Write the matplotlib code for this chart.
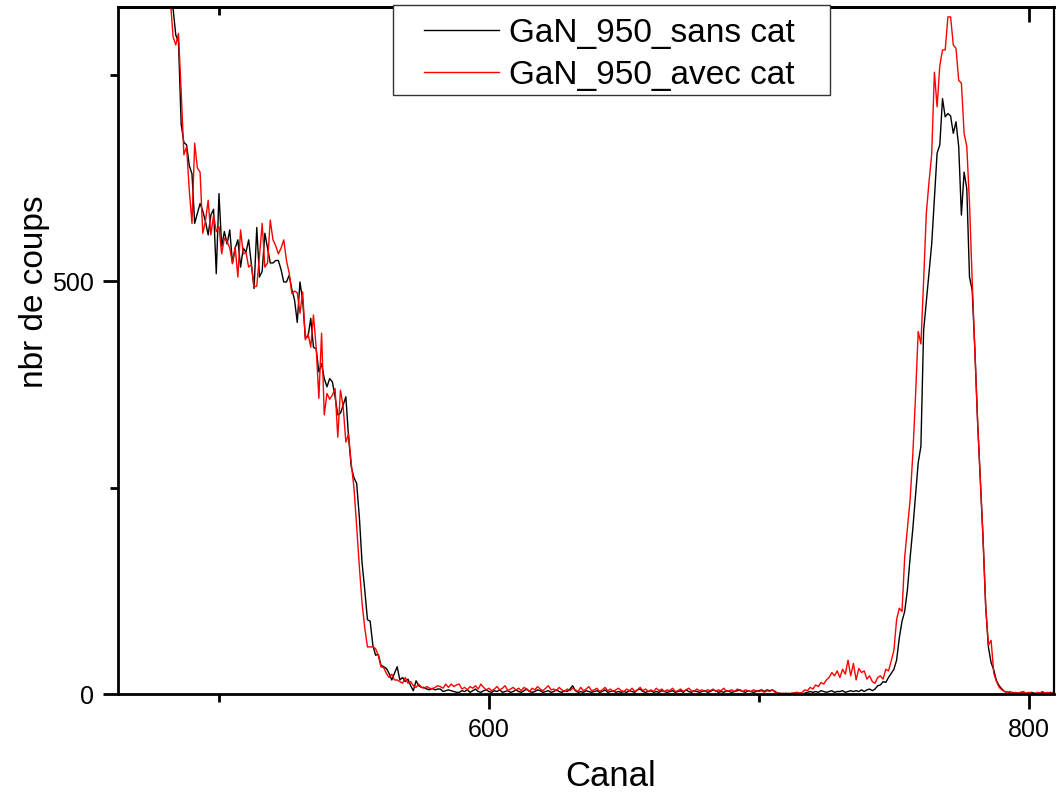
import numpy as np
import matplotlib
matplotlib.use('Agg')
import matplotlib.pyplot as plt
from matplotlib.patches import Rectangle
from matplotlib.ticker import MultipleLocator

plt.rcParams['font.family'] = ['Liberation Sans', 'DejaVu Sans']

# canaux 480..809
canal_debut = 480

# GaN_950_sans cat (noir)
sans_cat = [
    910, 880, 852, 830, 798, 790, 690, 668, 665, 640,
    630, 570, 582, 594, 585, 572, 556, 580, 587, 509,
    606, 542, 560, 545, 562, 522, 540, 550, 517, 540,
    535, 550, 520, 491, 565, 505, 512, 558, 540, 522,
    522, 525, 525, 514, 499, 499, 507, 490, 477, 450,
    499, 477, 431, 433, 455, 420, 418, 390, 400, 382,
    372, 382, 378, 360, 338, 340, 350, 360, 311, 275,
    262, 255, 214, 159, 126, 90, 88, 59, 47, 48,
    35, 33, 31, 25, 17, 25, 33, 17, 20, 15,
    18, 10, 4, 16, 10, 8, 8, 6, 5, 7,
    5, 6, 6, 3, 4, 5, 4, 3, 2, 2,
    4, 3, 5, 2, 4, 6, 3, 2, 4, 5,
    3, 2, 4, 3, 5, 2, 3, 4, 2, 3,
    5, 3, 2, 4, 6, 3, 2, 3, 5, 4,
    2, 3, 4, 2, 3, 5, 3, 2, 4, 3,
    6, 10, 4, 2, 3, 2, 4, 3, 2, 3,
    4, 2, 3, 5, 2, 3, 4, 2, 3, 2,
    3, 2, 4, 3, 2, 5, 6, 3, 2, 3,
    4, 2, 3, 2, 4, 3, 2, 3, 4, 2,
    3, 4, 2, 5, 3, 2, 4, 3, 2, 3,
    4, 2, 3, 5, 4, 2, 3, 2, 4, 3,
    2, 3, 4, 5, 3, 2, 4, 3, 2, 3,
    4, 5, 3, 5, 4, 5, 3, 1, 1, 0,
    1, 0, 1, 1, 2, 1, 0, 1, 2, 3,
    2, 3, 2, 4, 3, 2, 3, 4, 2, 3,
    3, 4, 2, 3, 4, 3, 4, 3, 5, 3,
    5, 6, 4, 6, 10, 11, 15, 14, 20, 25,
    30, 41, 68, 88, 100, 126, 165, 200, 240, 280,
    300, 440, 475, 510, 545, 600, 655, 665, 721, 699,
    703, 700, 679, 693, 663, 580, 632, 612, 505, 489,
    416, 330, 259, 190, 106, 57, 38, 29, 16, 10,
    6, 3, 2, 1, 2, 1, 1, 2, 1, 0,
    1, 2, 1, 0, 1, 2, 1, 1, 2, 1,
]

# GaN_950_avec cat (rouge)
avec_cat = [
    900, 870, 840, 796, 786, 800, 730, 653, 663, 610,
    570, 667, 637, 632, 558, 573, 598, 556, 580, 560,
    566, 533, 552, 548, 540, 521, 541, 505, 562, 533,
    535, 517, 520, 493, 494, 530, 570, 517, 522, 574,
    550, 543, 533, 540, 550, 525, 510, 485, 488, 486,
    461, 487, 429, 436, 420, 459, 420, 358, 437, 338,
    364, 357, 362, 370, 311, 368, 348, 305, 315, 279,
    250, 203, 154, 110, 80, 57, 57, 57, 55, 47,
    33, 32, 25, 20, 24, 17, 17, 15, 13, 20,
    13, 15, 10, 8, 12, 8, 7, 9, 7, 6,
    8, 10, 9, 7, 12, 8, 12, 9, 11, 12,
    6, 8, 5, 9, 7, 10, 6, 12, 8, 5,
    7, 4, 6, 9, 5, 7, 10, 4, 6, 8,
    5, 7, 4, 8, 6, 3, 7, 5, 9, 6,
    4, 7, 10, 5, 6, 4, 8, 5, 3, 6,
    4, 7, 5, 3, 8, 4, 6, 9, 4, 5,
    7, 3, 5, 8, 4, 6, 3, 5, 7, 4,
    3, 6, 4, 7, 3, 5, 8, 4, 6, 3,
    5, 3, 7, 4, 6, 3, 5, 4, 7, 3,
    4, 6, 3, 5, 7, 4, 3, 6, 4, 5,
    3, 5, 4, 6, 3, 5, 4, 7, 3, 4,
    5, 3, 6, 4, 3, 5, 4, 3, 5, 4,
    3, 4, 2, 4, 3, 5, 2, 1, 0, 1,
    0, 1, 0, 1, 2, 1, 2, 5, 4, 8,
    6, 11, 9, 14, 12, 17, 20, 26, 22, 28,
    20, 30, 24, 41, 22, 37, 17, 31, 26, 28,
    18, 22, 15, 13, 20, 22, 18, 30, 28, 40,
    53, 90, 104, 100, 166, 200, 235, 290, 360, 439,
    424, 500, 582, 620, 654, 753, 711, 761, 780, 780,
    820, 820, 786, 782, 743, 740, 679, 663, 594, 500,
    416, 330, 259, 190, 106, 59, 65, 25, 15, 8,
    5, 3, 2, 3, 1, 2, 1, 2, 3, 1,
    2, 1, 0, 2, 1, 3, 1, 2, 1, 2,
]

noms = ['GaN_950_sans cat', 'GaN_950_avec cat']
couleurs = ['black', 'red']

canal = np.arange(canal_debut, canal_debut + len(sans_cat))

fig = plt.figure(figsize=(10.59, 7.95), dpi=100)
ax = fig.add_axes([118/1059, 1-694/795, 936/1059, 687/795])

ax.plot(canal, sans_cat, color=couleurs[0], lw=1.0, label=noms[0])
ax.plot(canal, avec_cat, color=couleurs[1], lw=1.0, label=noms[1])

ax.set_xlim(462.6, 809.3)
ax.set_ylim(0, 832)

# axes style Origin
for s in ax.spines.values():
    s.set_linewidth(2.0)
ax.spines['right'].set_linewidth(1.6)

ax.xaxis.set_major_locator(MultipleLocator(200))
ax.xaxis.set_minor_locator(MultipleLocator(100))
ax.yaxis.set_major_locator(MultipleLocator(500))
ax.yaxis.set_minor_locator(MultipleLocator(250))
ax.tick_params(which='major', direction='out', length=11, width=2, labelsize=18, pad=6)
ax.tick_params(which='minor', direction='out', length=6, width=2)
ax.tick_params(axis='y', which='both', right=False)

# graduations en haut, vers l'interieur
top = ax.secondary_xaxis('top')
top.xaxis.set_major_locator(MultipleLocator(200))
top.xaxis.set_minor_locator(MultipleLocator(100))
top.tick_params(which='major', direction='in', length=11, width=2, labeltop=False)
top.tick_params(which='minor', direction='in', length=6, width=2)
top.spines['top'].set_linewidth(2.0)

ax.set_xlabel('Canal', fontsize=25)
ax.set_ylabel('nbr de coups', fontsize=24)
ax.xaxis.set_label_coords(0.526, -0.096)
ax.yaxis.set_label_coords(-0.073, 0.585)

# legende
leg = fig.legend(loc='upper left', bbox_to_anchor=(407/1059, 1-1/795),
                 frameon=False, fontsize=24, borderpad=0, handlelength=2.25,
                 handletextpad=0.3, labelspacing=0.34)
fig.add_artist(Rectangle((393/1059, 1-95/795), 437/1059, 90/795,
                         transform=fig.transFigure, fill=True, facecolor='white',
                         edgecolor='#333333', lw=1.0, zorder=3))
leg.set_zorder(4)

fig.savefig('out.png', dpi=100)
